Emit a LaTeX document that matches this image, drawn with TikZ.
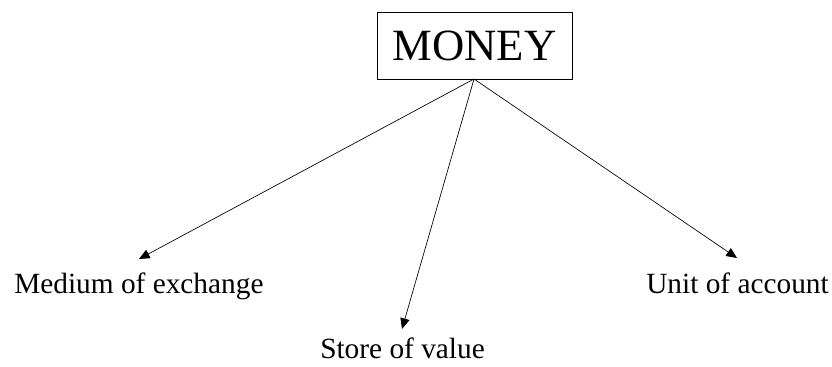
\documentclass[tikz,border=0pt]{standalone}
\usepackage{fontspec}
\setmainfont{Liberation Serif}
\usetikzlibrary{arrows.meta}
\begin{document}
\begin{tikzpicture}[x=0.75pt,y=-0.75pt,
  titlebox/.style={draw,line width=0.7pt,minimum width=146.25pt,minimum height=50.25pt,
    inner sep=0pt,font=\fontsize{33.5}{37}\selectfont},
  label/.style={inner sep=0pt,font=\fontsize{22}{26}\selectfont},
  link/.style={line width=0.5pt,-{Triangle[length=8pt,width=7pt]}}]
\useasboundingbox (0,0) rectangle (832,367);
\node[titlebox] (money) at (474.5,45.5) {MONEY};
\coordinate (root) at (474,79);
\node[label,anchor=base west] (medium) at (14,293) {Medium of exchange};
\node[label,anchor=base west] (store) at (320,358) {Store of value};
\node[label,anchor=base west] (unit) at (646,293) {Unit of account};
\coordinate (mediumtip) at (139,259);
\coordinate (storetip) at (402,329);
\coordinate (unittip) at (737,258);
\draw[link] (root) -- (mediumtip);
\draw[link] (root) -- (storetip);
\draw[link] (root) -- (unittip);
\end{tikzpicture}
\end{document}
